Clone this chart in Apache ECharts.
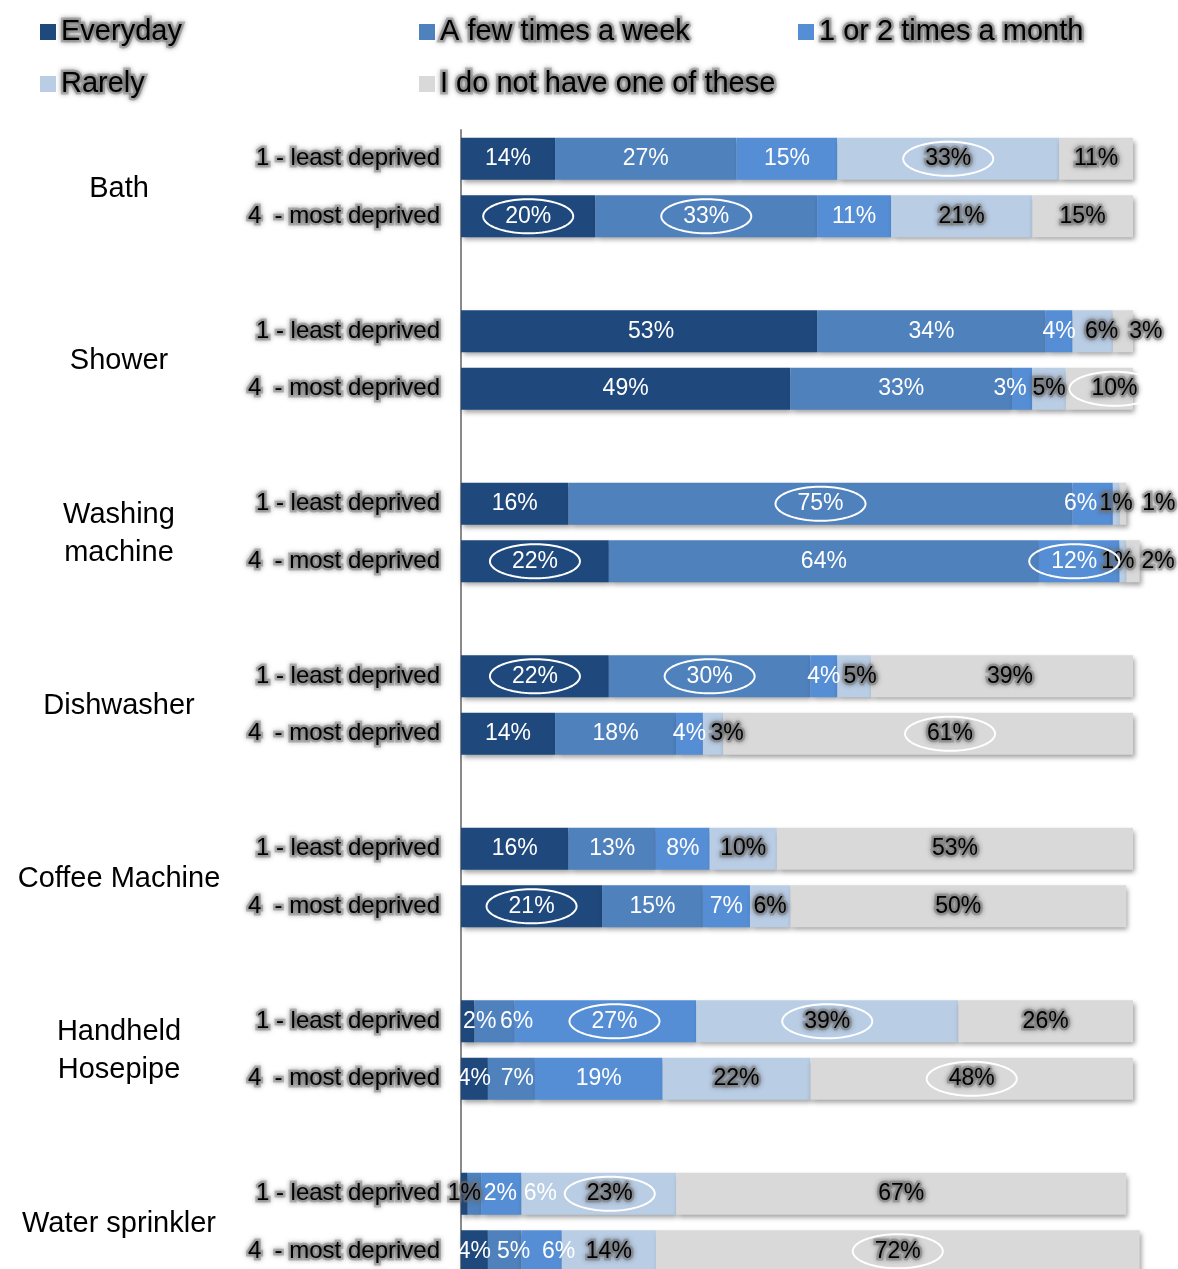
<!DOCTYPE html>
<html>
<head>
<meta charset="utf-8">
<script src="https://cdn.jsdelivr.net/npm/echarts@6/dist/echarts.min.js"></script>
<style>
  html, body { margin: 0; padding: 0; background: #fff; }
  #chart { width: 1178px; height: 1269px; }
</style>
</head>
<body>
<div id="chart"></div>
<script>
// Household appliance usage by deprivation quintile (percent of respondents)
const groups = ['Bath', 'Shower', 'Washing\nmachine', 'Dishwasher', 'Coffee Machine', 'Handheld\nHosepipe', 'Water sprinkler'];
const levels = ['1 - least deprived', '4  - most deprived'];
const seriesNames = ['Everyday', 'A few times a week', '1 or 2 times a month', 'Rarely', 'I do not have one of these'];

// One value per bar, ordered group by group: [least deprived, most deprived, ...]
const everyday = [14, 20, 53, 49, 16, 22, 22, 14, 16, 21, 2, 4, 1, 4];
const fewTimesWeek = [27, 33, 34, 33, 75, 64, 30, 18, 13, 15, 6, 7, 2, 5];
const onceTwiceMonth = [15, 11, 4, 3, 6, 12, 4, 4, 8, 7, 27, 19, 6, 6];
const rarely = [33, 21, 6, 5, 1, 1, 5, 3, 10, 6, 39, 22, 23, 14];
const notOwned = [11, 15, 3, 10, 1, 2, 39, 61, 53, 50, 26, 48, 67, 72];

// Highlighted differences, as [bar, series]
const circled = [[0, 3], [1, 0], [1, 1], [3, 4], [4, 1], [5, 0], [5, 2], [6, 0], [6, 1],
                 [7, 4], [9, 0], [10, 2], [10, 3], [11, 4], [12, 3], [13, 4]];

// Sideways nudges (px) for crowded value labels, keyed "bar,series"
const labelShift = {
  '2,0': 12, '2,3': 9, '2,4': 23,
  '3,2': -12, '3,4': 15,
  '4,2': -12, '4,4': 36,
  '5,2': -5, '5,3': -5, '5,4': 25,
  '6,3': 6, '6,4': 8,
  '7,3': 14, '7,4': 22,
  '10,0': 12, '10,1': 22, '10,2': 9,
  '11,1': 6,
  '12,1': 26, '12,2': 39, '12,3': 11,
  '13,1': 9, '13,2': 17
};
const darkLabelBars = { '12,0': true };

const FONT = '"Liberation Sans", Arial, Helvetica, sans-serif';
const colors = ['#1F497D', '#4F81BD', '#558ED5', '#B9CDE5', '#D9D9D9'];
const values = [everyday, fewTimesWeek, onceTwiceMonth, rarely, notOwned];
// soft grey halo behind dark text
const glow = {
  textBorderColor: 'rgba(120,120,120,0.45)', textBorderWidth: 5,
  textShadowColor: 'rgba(90,90,90,0.85)', textShadowBlur: 5
};

// Slots on the category axis: two bars per group, then a spacer
const slotOfBar = r => Math.floor(r / 2) * 3 + (r % 2);
const slotKeys = [];
const slotLabels = [];
groups.forEach((g, gi) => {
  levels.forEach((lv, li) => { slotKeys.push(gi + '-' + li); slotLabels.push(lv); });
  if (gi < groups.length - 1) { slotKeys.push('gap-' + gi); slotLabels.push(''); }
});

const barSeries = seriesNames.map((name, s) => {
  const data = slotKeys.map(() => '-');
  values[s].forEach((v, r) => {
    const key = r + ',' + s;
    const dark = s >= 3 || darkLabelBars[key];
    const label = { offset: [labelShift[key] || 0, 0] };
    if (dark) Object.assign(label, { color: '#000' }, glow);
    data[slotOfBar(r)] = { value: v, label };
  });
  return {
    name, type: 'bar', stack: 'total', barWidth: 42, clip: false,
    itemStyle: {
      color: colors[s],
      shadowColor: 'rgba(0,0,0,0.38)', shadowBlur: 5, shadowOffsetX: 2, shadowOffsetY: 3
    },
    label: {
      show: true, position: 'inside', formatter: '{c}%',
      fontSize: 23, fontFamily: FONT, color: '#fff',
      textShadowBlur: 0, textBorderWidth: 0
    },
    emphasis: { disabled: true },
    data
  };
});

// Ellipse outlines around highlighted values
const ellipseData = circled.map(([r, s]) => {
  let before = 0;
  for (let k = 0; k < s; k++) before += values[k][r];
  return [before + values[s][r] / 2, slotOfBar(r), labelShift[r + ',' + s] || 0];
});

const ellipseSeries = {
  type: 'custom', name: 'highlight', clip: false, z: 6, silent: true,
  renderItem(params, api) {
    const p = api.coord([api.value(0), api.value(1)]);
    const cx = p[0] + api.value(2), cy = p[1];
    const pts = [];
    for (let k = 0; k < 90; k++) {
      const t = k / 90 * Math.PI * 2;
      pts.push([cx + 45 * Math.cos(t), cy + 17 * Math.sin(t)]);
    }
    return { type: 'polygon', shape: { points: pts }, style: { fill: 'none', stroke: '#fff', lineWidth: 2 } };
  },
  data: ellipseData
};

// Group names to the left of each pair of bars
const groupSeries = {
  type: 'custom', name: 'groups', clip: false, silent: true,
  renderItem(params, api) {
    const slot = api.value(1);
    const y0 = api.coord([0, slot])[1];
    const y1 = api.coord([0, slot + 1])[1];
    return {
      type: 'text', x: 119, y: (y0 + y1) / 2 + 1,
      style: {
        text: groups[params.dataIndex], fill: '#000', fontSize: 29, fontFamily: FONT,
        align: 'center', verticalAlign: 'middle', lineHeight: 38
      }
    };
  },
  data: groups.map((g, i) => [0, i * 3])
};

const chart = echarts.init(document.getElementById('chart'), null, { renderer: 'canvas' });
chart.setOption({
  animation: false,
  textStyle: { fontFamily: FONT },
  legend: {
    data: seriesNames,
    left: 40, top: 15, width: 1125, padding: 0,
    icon: 'rect', itemWidth: 16, itemHeight: 16, itemGap: 18,
    selectedMode: false,
    textStyle: Object.assign({ fontSize: 29, color: '#000', fontFamily: FONT, width: 340, lineHeight: 33 }, glow)
  },
  grid: { left: 461, top: 130, width: 672, height: 1150, containLabel: false, outerBoundsMode: 'none' },
  xAxis: { type: 'value', min: 0, max: 100, show: false },
  yAxis: {
    type: 'category', inverse: true, data: slotKeys,
    axisTick: { show: false },
    axisLine: { show: true, lineStyle: { color: '#8a8a8a', width: 2 } },
    splitLine: { show: false },
    axisLabel: Object.assign({
      interval: 0, margin: 21, fontSize: 24, color: '#000', fontFamily: FONT,
      formatter: (v, i) => slotLabels[i]
    }, glow)
  },
  series: [...barSeries, groupSeries, ellipseSeries]
});
</script>
</body>
</html>
